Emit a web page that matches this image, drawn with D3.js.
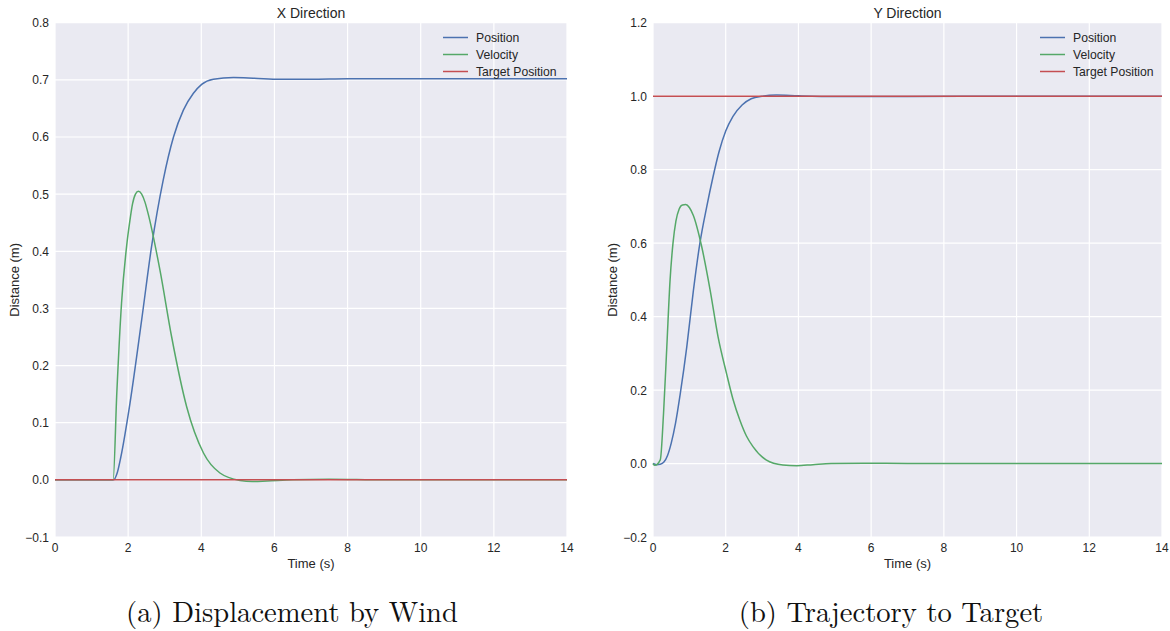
<!DOCTYPE html>
<html>
<head>
<meta charset="utf-8">
<script src="https://cdn.jsdelivr.net/npm/d3@7"></script>
<style>
  body { margin: 0; background: #fff; }
  svg text { font-family: "Liberation Sans", Arial, sans-serif; fill: #262626; }
  .caption { font-family: "Latin Modern Roman", "Liberation Serif", "DejaVu Serif", serif; fill: #111; }
</style>
</head>
<body>
<div class="chart"></div>
<script>
const width = 1170;
const height = 631;

// X direction panel
const xPosT = [0, 1.6, 1.7, 1.8, 2.05, 2.37, 2.64, 2.96, 3.24, 3.51, 3.78, 4.01, 4.33, 4.88, 5.42, 6.15, 7, 8, 10, 12, 14];
const xPosV = [0, 0, 0.012, 0.04, 0.134, 0.28, 0.408, 0.525, 0.60, 0.647, 0.676, 0.692, 0.701, 0.704, 0.703, 0.701, 0.701, 0.702, 0.702, 0.702, 0.702];
const xVelT = [0, 1.59, 1.69, 1.82, 1.96, 2.04, 2.12, 2.2, 2.28, 2.37, 2.46, 2.55, 2.87, 3.19, 3.60, 4.06, 4.51, 5.06, 5.4, 5.8, 6.5, 7.5, 9, 11, 14];
const xVelV = [0, 0, 0.152, 0.31, 0.41, 0.45, 0.483, 0.5, 0.505, 0.5, 0.486, 0.465, 0.367, 0.25, 0.128, 0.047, 0.012, -0.001, -0.003, -0.002, 0, 0.001, 0, 0, 0];
const xTgtT = [0, 14];
const xTgtV = [0, 0];

// Y direction panel
const yPosT = [0, 0.1, 0.2, 0.3, 0.4, 0.5, 0.62, 0.75, 0.93, 1.11, 1.29, 1.48, 1.65, 1.82, 2.0, 2.2, 2.45, 2.7, 3.0, 3.4, 4.0, 5, 7, 10, 14];
const yPosV = [0, -0.003, -0.002, 0.004, 0.022, 0.055, 0.11, 0.19, 0.318, 0.47, 0.60, 0.70, 0.78, 0.85, 0.905, 0.945, 0.976, 0.993, 1.0, 1.003, 1.001, 0.999, 0.999, 1.0, 1.0];
const yVelT = [0, 0.05, 0.2, 0.29, 0.38, 0.47, 0.55, 0.63, 0.72, 0.81, 0.9, 1.0, 1.11, 1.34, 1.57, 1.79, 2.02, 2.2, 2.39, 2.57, 2.75, 3.11, 3.57, 3.95, 4.4, 4.9, 5.8, 7, 9, 11, 14];
const yVelV = [0, -0.005, 0.01, 0.137, 0.318, 0.50, 0.6, 0.66, 0.693, 0.704, 0.705, 0.697, 0.675, 0.59, 0.473, 0.345, 0.246, 0.175, 0.118, 0.075, 0.046, 0.01, -0.004, -0.006, -0.003, 0, 0.001, 0, 0, 0, 0];
const yTgtT = [0, 14];
const yTgtV = [1, 1];

const xTicks = [0, 2, 4, 6, 8, 10, 12, 14];
const leftYTicks = [-0.1, 0.0, 0.1, 0.2, 0.3, 0.4, 0.5, 0.6, 0.7, 0.8];
const rightYTicks = [-0.2, 0.0, 0.2, 0.4, 0.6, 0.8, 1.0, 1.2];
const seriesNames = ["Position", "Velocity", "Target Position"];
const seriesColors = ["#4C72B0", "#55A868", "#C44E52"];

const svg = d3.select(".chart").append("svg").attr("width", width).attr("height", height);

function zip(ts, vs) { return ts.map((t, i) => [t, vs[i]]); }

function panel(opts) {
    const g = svg.append("g");
    const x = d3.scaleLinear().domain([0, 14]).range([opts.left, opts.right]);
    const y = d3.scaleLinear().domain(opts.yDomain).range([537, 22.7]);

    g.append("rect").attr("x", opts.left).attr("y", 22.7)
        .attr("width", opts.right - opts.left).attr("height", 537 - 22.7)
        .attr("fill", "#EAEAF2");

    // grid
    g.selectAll(".vg").data(xTicks).enter().append("line")
        .attr("x1", d => x(d)).attr("x2", d => x(d)).attr("y1", 22.7).attr("y2", 537)
        .attr("stroke", "#fff").attr("stroke-width", 1.2);
    g.selectAll(".hg").data(opts.yTicks).enter().append("line")
        .attr("y1", d => y(d)).attr("y2", d => y(d)).attr("x1", opts.left).attr("x2", opts.right)
        .attr("stroke", "#fff").attr("stroke-width", 1.2);

    // tick labels
    g.selectAll(".xt").data(xTicks).enter().append("text")
        .attr("x", d => x(d)).attr("y", 552).attr("text-anchor", "middle")
        .attr("font-size", 12).text(d => d);
    g.selectAll(".yt").data(opts.yTicks).enter().append("text")
        .attr("x", opts.left - 6).attr("y", d => y(d) + 4.5).attr("text-anchor", "end")
        .attr("font-size", 12).text(d => d < 0 ? "\u2212" + Math.abs(d).toFixed(1) : d.toFixed(1));

    // titles
    g.append("text").attr("x", (opts.left + opts.right) / 2).attr("y", 18)
        .attr("text-anchor", "middle").attr("font-size", 14).text(opts.title);
    g.append("text").attr("x", (opts.left + opts.right) / 2).attr("y", 568)
        .attr("text-anchor", "middle").attr("font-size", 13).text("Time (s)");
    g.append("text").attr("transform", `translate(${opts.left - 36},${(22.7 + 537) / 2}) rotate(-90)`)
        .attr("text-anchor", "middle").attr("font-size", 13).text("Distance (m)");

    const line = d3.line().x(d => x(d[0])).y(d => y(d[1])).curve(d3.curveMonotoneX);
    opts.series.forEach((s, i) => {
        g.append("path").datum(s).attr("d", line).attr("fill", "none")
            .attr("stroke", seriesColors[i]).attr("stroke-width", 1.5);
    });

    // legend
    seriesNames.forEach((n, i) => {
        const ly = 37.5 + i * 17;
        g.append("line").attr("x1", opts.legendX).attr("x2", opts.legendX + 25)
            .attr("y1", ly).attr("y2", ly).attr("stroke", seriesColors[i]).attr("stroke-width", 1.5);
        g.append("text").attr("x", opts.legendX + 33).attr("y", ly + 4)
            .attr("font-size", 12.2).text(n);
    });

    svg.append("text").attr("class", "caption").attr("x", opts.captionX).attr("y", 622)
        .attr("text-anchor", "middle").attr("font-size", 28.6).text(opts.caption);
}

panel({
    left: 55, right: 567, yDomain: [-0.1, 0.8], yTicks: leftYTicks, title: "X Direction",
    series: [zip(xPosT, xPosV), zip(xVelT, xVelV), zip(xTgtT, xTgtV)],
    legendX: 443, caption: "(a) Displacement by Wind", captionX: 292
});
panel({
    left: 653, right: 1162, yDomain: [-0.2, 1.2], yTicks: rightYTicks, title: "Y Direction",
    series: [zip(yPosT, yPosV), zip(yVelT, yVelV), zip(yTgtT, yTgtV)],
    legendX: 1040, caption: "(b) Trajectory to Target", captionX: 891
});
</script>
</body>
</html>
